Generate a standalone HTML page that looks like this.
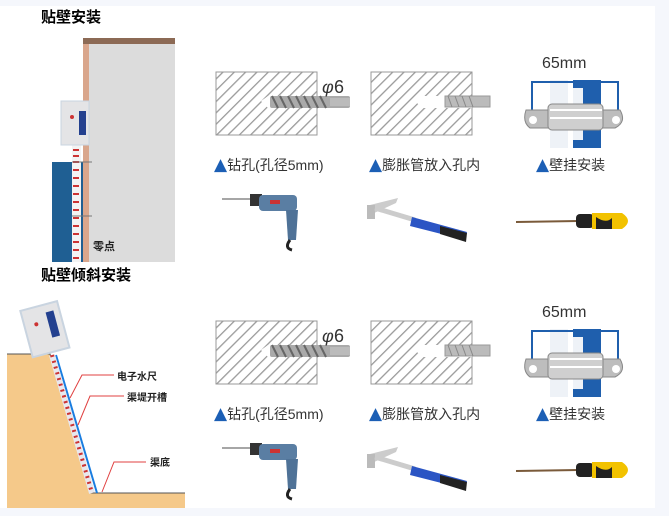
<!DOCTYPE html>
<html><head><meta charset="utf-8"><style>
html,body{margin:0;padding:0;background:#f5f7fc;}
svg{display:block;}
text{font-family:"Liberation Sans","Noto Sans CJK SC",sans-serif;}
</style></head><body>
<svg width="669" height="516" viewBox="0 0 669 516" xmlns="http://www.w3.org/2000/svg">
<defs>
<pattern id="hat" width="8" height="8" patternUnits="userSpaceOnUse" patternTransform="rotate(45)">
<rect width="8" height="8" fill="#fff"/><rect width="1.3" height="8" fill="#9a9a9a"/>
</pattern>
<g id="row">
 <rect x="216" y="72" width="101" height="63" fill="url(#hat)" stroke="#999" stroke-width="1"/>
 <path d="M261,101 L268,96 L317,96 L317,108 L268,108 Z" fill="#fff"/>
 <rect x="270" y="96" width="80" height="12" rx="2" fill="#aaa"/>
 <path d="M272,96 l6,12 M280,96 l6,12 M288,96 l6,12 M296,96 l6,12 M304,96 l6,12 M312,96 l6,12 M320,96 l6,12" stroke="#666" stroke-width="2"/>
 <rect x="330" y="98" width="20" height="8" fill="#bbb"/>
 <text x="322" y="93" font-size="18" fill="#333" font-family="Liberation Serif,serif" font-style="italic">φ</text>
 <text x="334" y="93" font-size="18" fill="#333">6</text>
 <rect x="371" y="72" width="101" height="63" fill="url(#hat)" stroke="#999" stroke-width="1"/>
 <path d="M415,101 L422,96 L472,96 L472,108 L422,108 Z" fill="#fff"/>
 <rect x="445" y="96" width="45" height="11" fill="#bbb" stroke="#999"/>
 <path d="M448,96 l4,11 M455,96 l4,11 M462,96 l4,11 M469,96 l4,11" stroke="#888"/>
 <rect x="550" y="80" width="18" height="68" fill="#eef2f7"/>
 <rect x="573" y="80" width="28" height="68" fill="#1f5fad"/>
 <rect x="573" y="88" width="10" height="52" fill="#eef2f7"/>
 <path d="M532,120 V82 H618 V120" fill="none" stroke="#1f5fad" stroke-width="2"/>
 <path d="M526,110 Q522,122 530,128 L615,128 Q627,122 620,110 Z" fill="#bdbdbd" stroke="#888"/>
 <rect x="548" y="104" width="55" height="26" rx="4" fill="#cfcfcf" stroke="#888"/>
 <path d="M550,110 H602 M550,118 H602" stroke="#fff" stroke-width="2"/>
 <circle cx="533" cy="120" r="4" fill="#fff"/><circle cx="616" cy="120" r="4" fill="#fff"/>
 <text x="542" y="68" font-size="16" fill="#333">65mm</text>
 <text x="214" y="170" font-size="14" fill="#333"><tspan fill="#1c5fb5" font-size="17" font-family="DejaVu Sans">▲</tspan>钻孔(孔径5mm)</text>
 <text x="369" y="170" font-size="14" fill="#333"><tspan fill="#1c5fb5" font-size="17" font-family="DejaVu Sans">▲</tspan>膨胀管放入孔内</text>
 <text x="536" y="170" font-size="14" fill="#333"><tspan fill="#1c5fb5" font-size="17" font-family="DejaVu Sans">▲</tspan>壁挂安装</text>
 <line x1="222" y1="199" x2="250" y2="199" stroke="#888" stroke-width="1.5"/>
 <rect x="250" y="194" width="12" height="12" fill="#333"/>
 <rect x="259" y="195" width="38" height="16" rx="4" fill="#5a7ea3"/>
 <rect x="270" y="200" width="10" height="4" fill="#c33"/>
 <path d="M286,210 L298,210 L296,240 L288,240 Z" fill="#4f7297"/>
 <path d="M290,240 Q284,248 292,250" stroke="#222" stroke-width="3" fill="none"/>
 <path d="M370,205 L398,198 L396,203 L372,214 Z" fill="#ccc"/>
 <rect x="367" y="205" width="8" height="14" fill="#bbb"/>
 <path d="M375,208 L415,220" stroke="#ccc" stroke-width="5"/>
 <path d="M412,217 L467,232 L465,240 L410,226 Z" fill="#2b55c4"/>
 <path d="M440,226 L467,233 L466,242 L440,234 Z" fill="#222"/>
 <line x1="516" y1="222" x2="578" y2="221" stroke="#7a5a3a" stroke-width="2"/>
 <rect x="576" y="214" width="18" height="14" rx="4" fill="#222"/>
 <path d="M592,213 L622,213 Q634,221 622,229 L592,229 Z" fill="#f2c200"/>
 <path d="M596,217 Q606,224 612,218 L612,229 L596,229 Z" fill="#222"/>
</g>
</defs>
<rect x="0" y="6" width="655" height="502" fill="#fff"/>
<text x="41" y="22" font-size="15" font-weight="bold" fill="#000">贴壁安装</text>
<rect x="83" y="38" width="92" height="6" fill="#8c6a55"/>
<rect x="83" y="44" width="6" height="218" fill="#d9a68c"/>
<rect x="89" y="44" width="86" height="218" fill="#dcdcdc"/>
<rect x="52" y="162" width="31" height="100" fill="#1f5f93"/>
<rect x="72" y="145" width="9" height="117" fill="#f3f3f3"/>
<path d="M73,150 h6 M73,156 h6 M73,162 h6 M73,170 h6 M73,178 h6 M73,186 h6 M73,194 h6 M73,202 h6 M73,210 h6 M73,218 h6 M73,226 h6 M73,234 h6 M73,242 h6 M73,250 h6 M73,258 h6" stroke="#c33" stroke-width="2"/>
<line x1="72" y1="162" x2="92" y2="162" stroke="#777"/>
<line x1="72" y1="216" x2="92" y2="216" stroke="#777"/>
<rect x="61" y="101" width="28" height="44" fill="#e4e4e6" stroke="#c9d4e0"/>
<rect x="79" y="111" width="7" height="24" fill="#23408f"/>
<circle cx="72" cy="117" r="2" fill="#c33"/>
<text x="93" y="250" font-size="11" font-weight="bold" fill="#222">零点</text>
<text x="41" y="280" font-size="15" font-weight="bold" fill="#000">贴壁倾斜安装</text>
<path d="M7,354 L50,354 L90,493 L185,493 L185,508 L7,508 Z" fill="#f5c98a"/>
<path d="M7,354 L50,354 L90,493 L185,493" fill="none" stroke="#555" stroke-width="1"/>
<line x1="56" y1="355" x2="97" y2="493" stroke="#1a7de0" stroke-width="2"/>
<line x1="52" y1="355" x2="92" y2="493" stroke="#e8e8ee" stroke-width="6"/>
<line x1="52" y1="355" x2="92" y2="493" stroke="#c33" stroke-width="4" stroke-dasharray="2 4"/>
<g transform="rotate(-15 42 330)"><rect x="26" y="306" width="38" height="48" fill="#e4e4e6" stroke="#c9d4e0" stroke-width="2"/><rect x="50" y="314" width="8" height="26" fill="#23408f"/><circle cx="38" cy="323" r="2" fill="#c33"/></g>
<path d="M70,398 L82,375 L114,375" fill="none" stroke="#e04040"/>
<path d="M78,425 L90,396 L124,396" fill="none" stroke="#e04040"/>
<path d="M102,492 L114,462 L146,462" fill="none" stroke="#e04040"/>
<text x="117" y="380" font-size="10" font-weight="bold" fill="#222">电子水尺</text>
<text x="127" y="401" font-size="10" font-weight="bold" fill="#222">渠堤开槽</text>
<text x="150" y="466" font-size="10" font-weight="bold" fill="#222">渠底</text>
<use href="#row"/>
<use href="#row" transform="translate(0,249)"/>
</svg>
</body></html>
